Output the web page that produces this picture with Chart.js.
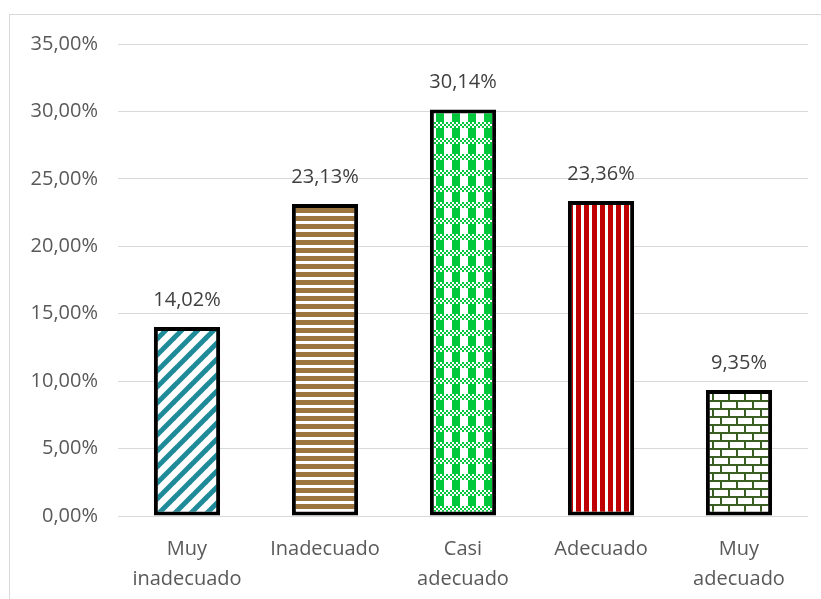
<!DOCTYPE html>
<html lang="es">
<head>
<meta charset="utf-8">
<title>Distribución por nivel de adecuación</title>
<script src="https://cdn.jsdelivr.net/npm/chart.js@4.4.1/dist/chart.umd.min.js"></script>
<style>
  html, body { margin: 0; padding: 0; background: #fff; overflow: hidden; }
  #frame {
    position: absolute; left: 9px; top: 14px;
    width: 900px; height: 700px;
    border: 1px solid #d9d9d9; box-sizing: border-box;
  }
  #wrap { position: absolute; left: 0; top: 0; width: 821px; height: 599px; }
</style>
</head>
<body>
<div id="frame"></div>
<div id="wrap"><canvas id="nivel-chart" width="821" height="599"></canvas></div>
<script>
// Categorías y porcentajes
const categorias = [['Muy', 'inadecuado'], 'Inadecuado', ['Casi', 'adecuado'], 'Adecuado', ['Muy', 'adecuado']];
const porcentajes = [14.02, 23.13, 30.14, 23.36, 9.35];
const ejeMax = 35;
const ejePaso = 5;

const fmtPct = v => v.toFixed(2).replace('.', ',') + '%';

// ---- Tramas de relleno ----
function tile(w, h, draw) {
  const c = document.createElement('canvas');
  c.width = w; c.height = h;
  const g = c.getContext('2d');
  g.fillStyle = '#ffffff';
  g.fillRect(0, 0, w, h);
  draw(g);
  return document.createElement('canvas').getContext('2d').createPattern(c, 'repeat');
}

// diagonales anchas
const tramaDiagonal = tile(16, 16, g => {
  g.strokeStyle = '#1f8a98';
  g.lineWidth = 5;
  for (let k = -1; k <= 1; k++) {
    g.beginPath();
    g.moveTo(-4 + k * 16, 20);
    g.lineTo(20 + k * 16, -4);
    g.stroke();
  }
});

// horizontales
const tramaHorizontal = tile(8, 8, g => {
  g.fillStyle = '#9c7440';
  g.fillRect(0, 0, 8, 5);
});

// cuadros grandes + damero pequeño
const tramaCuadros = tile(16, 16, g => {
  g.fillStyle = '#00c83c';
  g.fillRect(4, 0, 8, 10);
  for (let y = 10; y < 16; y += 2) {
    for (let x = 0; x < 16; x += 2) {
      if (((x + y) / 2) % 2 === 0) g.fillRect(x, y, 2, 2);
    }
  }
});

// verticales
const tramaVertical = tile(8, 8, g => {
  g.fillStyle = '#c00000';
  g.fillRect(0, 0, 5, 8);
});

// ladrillos
const tramaLadrillo = tile(16, 16, g => {
  g.fillStyle = '#3b5f22';
  g.fillRect(0, 0, 16, 2);
  g.fillRect(0, 8, 16, 2);
  g.fillRect(0, 0, 2, 8);
  g.fillRect(8, 8, 2, 8);
});

const tramas = [tramaDiagonal, tramaHorizontal, tramaCuadros, tramaVertical, tramaLadrillo];

// Etiquetas de valor sobre las barras
const etiquetasValor = {
  id: 'etiquetasValor',
  afterDatasetsDraw(chart) {
    const ctx = chart.ctx;
    const meta = chart.getDatasetMeta(0);
    ctx.save();
    ctx.font = '20px "Open Sans"';
    ctx.fillStyle = '#404040';
    ctx.textAlign = 'center';
    ctx.textBaseline = 'middle';
    meta.data.forEach((bar, i) => {
      ctx.fillText(fmtPct(porcentajes[i]), bar.x, bar.y - 27);
    });
    ctx.restore();
  }
};

new Chart(document.getElementById('nivel-chart'), {
  type: 'bar',
  data: {
    labels: categorias,
    datasets: [{
      data: porcentajes,
      backgroundColor: tramas,
      borderColor: '#000000',
      borderWidth: 4,
      borderSkipped: false,
      barPercentage: 0.48,
      categoryPercentage: 1
    }]
  },
  options: {
    responsive: false,
    animation: false,
    layout: { padding: { top: 44, right: 13, left: 0, bottom: 0 } },
    plugins: { legend: { display: false }, tooltip: { enabled: false } },
    scales: {
      x: {
        grid: { display: false, drawTicks: false },
        border: { display: false },
        ticks: {
          color: '#595959',
          font: { family: 'Open Sans', size: 20, lineHeight: 1.5 },
          padding: 18,
          maxRotation: 0
        },
        afterFit(scale) { scale.height = 83; }
      },
      y: {
        min: 0,
        max: ejeMax,
        grid: { color: '#d9d9d9', lineWidth: 1, drawTicks: false },
        border: { display: false },
        ticks: {
          stepSize: ejePaso,
          color: '#595959',
          font: { family: 'Open Sans', size: 20 },
          padding: 20,
          callback: v => fmtPct(v)
        },
        afterFit(scale) { scale.width = 118; }
      }
    }
  },
  plugins: [etiquetasValor]
});
</script>
</body>
</html>
